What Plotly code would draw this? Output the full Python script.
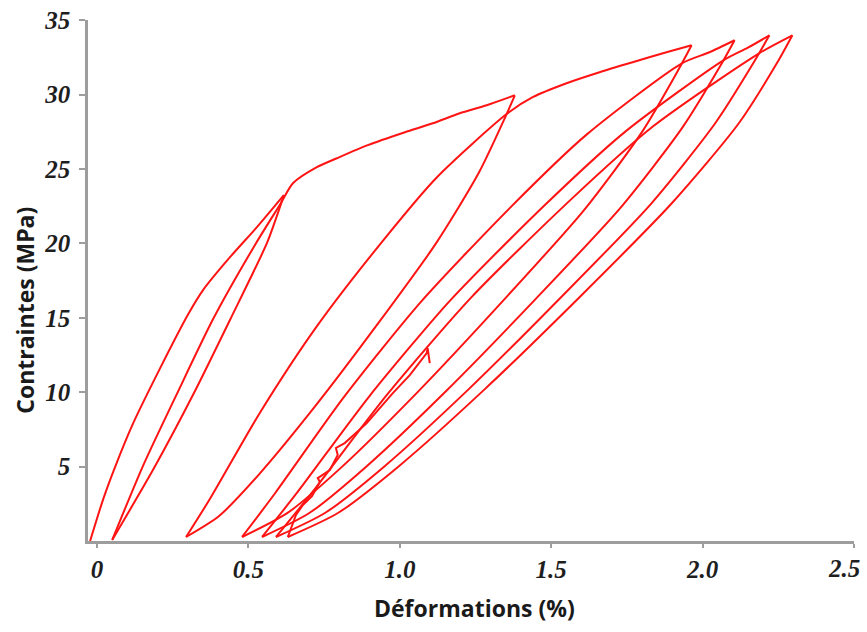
import plotly.graph_objects as go

# ---- data: strain (%) and stress (MPa), branch by branch ----
load1_x = [-0.023, 0.020, 0.060, 0.119, 0.208, 0.300, 0.350, 0.439, 0.528, 0.617]
load1_y = [0.0, 2.80, 5.00, 7.90, 11.60, 15.20, 16.86, 19.07, 21.09, 23.24]

unload1_x = [0.600, 0.561, 0.442, 0.320, 0.190, 0.050]
unload1_y = [22.20, 20.01, 14.98, 9.94, 4.97, 0.07]

reload1_x = [0.150, 0.265, 0.385, 0.525, 0.607, 0.647, 0.726, 0.792, 0.894, 1.017, 1.109, 1.198, 1.287, 1.380]
reload1_y = [4.97, 9.94, 14.98, 20.01, 22.70, 24.04, 25.12, 25.72, 26.60, 27.47, 28.07, 28.74, 29.28, 29.95]

unload2_x = [1.347, 1.261, 1.119, 0.924, 0.718, 0.533, 0.403, 0.294]
unload2_y = [28.42, 24.74, 19.98, 14.50, 8.99, 4.43, 1.68, 0.27]

reload2_x = [0.374, 0.538, 0.724, 0.942, 1.122, 1.356, 1.439, 1.551, 1.660, 1.769, 1.881, 1.964]
reload2_y = [2.87, 8.62, 14.37, 20.12, 24.43, 28.74, 29.82, 30.76, 31.50, 32.17, 32.84, 33.31]

unload3_x = [1.919, 1.801, 1.608, 1.340, 1.058, 0.806, 0.628, 0.479]
unload3_y = [31.61, 27.51, 22.22, 16.12, 9.99, 4.93, 1.87, 0.27]

reload3_x = [0.588, 0.814, 1.069, 1.368, 1.616, 1.932, 2.023, 2.106]
reload3_y = [3.21, 9.63, 16.05, 22.47, 27.29, 32.10, 32.84, 33.65]

unload4_x = [2.059, 1.934, 1.731, 1.450, 1.154, 0.888, 0.701, 0.545]
unload4_y = [31.93, 27.79, 22.44, 16.29, 10.10, 4.98, 1.88, 0.27]

reload4_x = [0.660, 0.898, 1.166, 1.481, 1.742, 2.069, 2.150, 2.221]
reload4_y = [3.23, 9.69, 16.15, 22.61, 27.46, 32.30, 33.15, 33.98]

unload5_x = [2.172, 2.042, 1.830, 1.536, 1.227, 0.950, 0.754, 0.591]
unload5_y = [32.25, 28.07, 22.66, 16.45, 10.19, 5.03, 1.90, 0.27]

reload5_x = [0.711, 0.958, 1.237, 1.565, 1.836, 2.187, 2.297]
reload5_y = [3.28, 9.83, 16.39, 22.94, 27.85, 32.77, 33.98]

unload6_x = [2.250, 2.120, 1.897, 1.597, 1.280, 0.997, 0.797, 0.630]
unload6_y = [32.25, 28.07, 22.66, 16.45, 10.19, 5.03, 1.90, 0.27]

reload6_x = [0.657, 0.680, 0.710, 0.736, 0.729, 0.769, 0.795, 0.789, 0.818, 0.891, 0.977, 1.033, 1.089, 1.092, 1.099]
reload6_y = [1.75, 2.42, 3.02, 3.96, 4.23, 4.77, 5.78, 6.25, 6.58, 7.92, 9.94, 11.15, 12.63, 12.96, 11.95]

x_ticks = [0, 0.5, 1.0, 1.5, 2.0, 2.5]
x_ticktext = ["0", "0.5", "1.0", "1.5", "2.0", "2.5"]
y_ticks = [5, 10, 15, 20, 25, 30, 35]
y_ticktext = ["5", "10", "15", "20", "25", "30", "35"]

x_title = "Déformations (%)"
y_title = "Contraintes (MPa)"

# ---- draw the continuous test record, one smooth piece per branch ----
branches_x = [load1_x, unload1_x, reload1_x, unload2_x, reload2_x, unload3_x, reload3_x,
              unload4_x, reload4_x, unload5_x, reload5_x, unload6_x, reload6_x]
branches_y = [load1_y, unload1_y, reload1_y, unload2_y, reload2_y, unload3_y, reload3_y,
              unload4_y, reload4_y, unload5_y, reload5_y, unload6_y, reload6_y]

fig = go.Figure()
prev = None
n = len(branches_x)
for i, (bx, by) in enumerate(zip(branches_x, branches_y)):
    px, py = list(bx), list(by)
    if prev is not None:
        px = [prev[0]] + px
        py = [prev[1]] + py
    prev = (bx[-1], by[-1])
    last = (i == n - 1)
    fig.add_trace(go.Scatter(
        x=px, y=py, mode="lines",
        line=dict(color="#ff1414", width=2,
                  shape="linear" if last else "spline", smoothing=0.7),
        hoverinfo="skip"))

tick_font = dict(family="Liberation Serif", size=25, color="#1e1e1e", weight="bold", style="italic")
axis_common = dict(showline=True, linecolor="#9d9d9d", linewidth=2.5, ticks="outside",
                   tickcolor="#9d9d9d", tickwidth=1.5, showgrid=False, automargin=False,
                   zeroline=False, tickfont=tick_font)

# the last x label sits at the right edge of the page: draw it as an annotation nudged inwards
x_labels_on_axis = x_ticktext[:-1] + [""]
last_label = x_ticktext[-1]

fig.update_layout(
    width=867, height=632,
    margin=dict(l=88, r=13, t=20, b=91, autoexpand=False),
    paper_bgcolor="white", plot_bgcolor="white",
    showlegend=False,
    xaxis=dict(range=[-0.03, 2.5005], tickvals=x_ticks, ticktext=x_labels_on_axis, ticklen=4, **axis_common),
    yaxis=dict(range=[0, 35.01], tickvals=y_ticks, ticktext=y_ticktext, ticklen=6,
               ticklabelstandoff=4, **axis_common),
    annotations=[
        dict(text=last_label, xref="x", yref="paper", x=x_ticks[-1], xshift=-10, y=-0.0537,
             xanchor="center", yanchor="middle", showarrow=False, font=tick_font),
        dict(text=x_title, xref="paper", yref="paper", x=0.505, y=-0.1286,
             xanchor="center", yanchor="middle", showarrow=False,
             font=dict(family="Open Sans", size=23, color="#1a1a1a", weight="bold")),
        dict(text=y_title, xref="paper", yref="paper", x=-0.0822, y=0.442,
             xanchor="center", yanchor="middle", showarrow=False, textangle=-90,
             font=dict(family="Open Sans", size=23, color="#1a1a1a", weight="bold")),
    ],
)

fig.write_html("out.html", config={"displayModeBar": False},
               post_script="document.body.style.margin='0px';document.body.style.overflow='hidden';")
